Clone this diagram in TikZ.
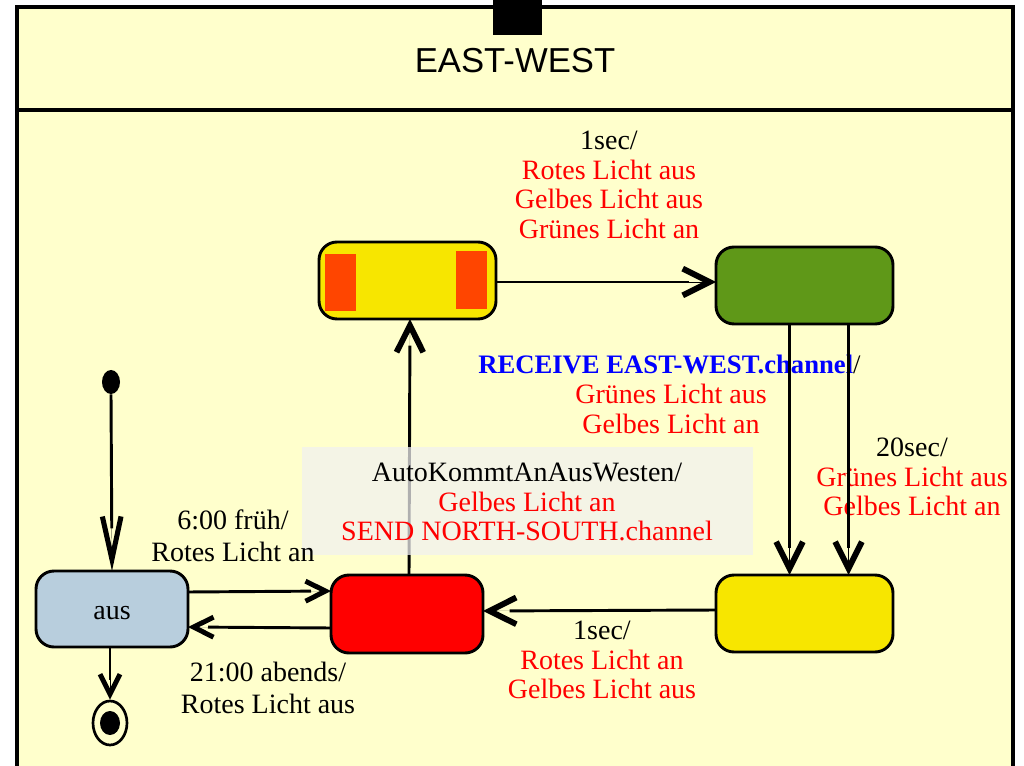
\documentclass[tikz,border=0pt]{standalone}
\usepackage{fontspec}
\setmainfont{Liberation Serif}
\setsansfont{Liberation Sans}
\usetikzlibrary{arrows.meta,shapes.geometric}
\definecolor{bgy}{HTML}{FFFFCC}
\definecolor{lgrey}{HTML}{F1F1F1}
\definecolor{syellow}{HTML}{F7E600}
\definecolor{sgreen}{HTML}{5F9818}
\definecolor{sblue}{HTML}{B8CEDD}
\definecolor{sorange}{HTML}{FF4500}
\tikzset{
 x=0.75pt,y=-0.75pt,
 statebox/.style={draw=black,line width=2.2pt,rounded corners=13.5pt,inner sep=0pt,outer sep=0pt,anchor=north west},
 lbl/.style={align=center,inner sep=0pt,font=\fontsize{21}{22.2}\selectfont},
 lblwide/.style={align=center,inner sep=0pt,font=\fontsize{21}{24}\selectfont},
 conn/.style={line width=2.2pt},
 bigv/.style={conn,shorten >=20pt,postaction={draw,line width=0.1pt,shorten >=0pt,-{Straight Barb[length=20pt,width=20pt,line width=4.4pt]}}},
 midv/.style={conn,shorten >=15pt,postaction={draw,line width=0.1pt,shorten >=0pt,-{Straight Barb[length=15pt,width=15pt,line width=3.7pt]}}},
 longv/.style={conn,shorten >=32pt,postaction={draw,line width=0.1pt,shorten >=0pt,-{Straight Barb[length=32pt,width=14pt,line width=3.8pt]}}},
 framel/.style={draw=black,line width=2.7pt},
}
\begin{document}
\begin{tikzpicture}
\useasboundingbox (0,0) rectangle (1024,766);
\fill[white] (0,0) rectangle (1024,766);
\fill[bgy] (17,7) rectangle (1013,766);
\draw[framel] (17,770) -- (17,7) -- (1013,7) -- (1013,770);
\draw[framel] (17,110) -- (1013,110);
\node[fill=black,minimum width=36.75pt,minimum height=26.25pt,inner sep=0pt,anchor=south west] (port) at (493,35) {};
\node[font=\sffamily\fontsize{26}{30}\selectfont,inner sep=0pt] (title) at (515,61) {EAST-WEST};

\node[statebox,fill=syellow,minimum width=132.75pt,minimum height=57.75pt] (s1) at (319,242) {};
\node[fill=sorange,minimum width=23.25pt,minimum height=42.75pt,inner sep=0pt,anchor=north west] (o1) at (325,254) {};
\node[fill=sorange,minimum width=23.25pt,minimum height=43.5pt,inner sep=0pt,anchor=north west] (o2) at (456,251) {};
\node[statebox,fill=sgreen,minimum width=132.75pt,minimum height=57.75pt] (s2) at (716,247) {};
\node[statebox,fill=syellow,minimum width=132.75pt,minimum height=57.75pt] (s3) at (716,575) {};
\node[statebox,fill=red,minimum width=114pt,minimum height=58.5pt] (s4) at (331,575) {};
\node[statebox,fill=sblue,minimum width=114pt,minimum height=57pt] (s5) at (36,571) {};
\node[lbl] (auslbl) at (112,613) {aus};
\node[fill=black,ellipse,minimum width=13.5pt,minimum height=18pt,inner sep=0pt] (init) at (111,382) {};
\node[draw=black,line width=2pt,fill=bgy,ellipse,minimum width=25.5pt,minimum height=33pt,inner sep=0pt] (fin) at (110,723) {};
\node[fill=black,ellipse,minimum width=15pt,minimum height=18pt,inner sep=0pt] (finc) at (110,723) {};

\coordinate (a1) at (789.5,0);
\coordinate (a2) at (848.5,0);

\draw[longv] (init.south) -- (s5.north);
\draw[midv] (s5.east |- 0,592) -- (s4.west |- 0,591);
\draw[midv] (s4.west |- 0,628) -- (s5.east |- 0,627);
\draw[midv] (s5.south -| 110,0) -- (fin.north);
\draw[bigv] (s4.north -| 409,0) -- (s1.south -| 410,0);
\draw[bigv] (s1.east |- 0,282) -- (s2.west |- 0,282);
\draw[bigv] (s3.west |- 0,610) -- (s4.east |- 0,611);

\node[lbl] (t1) at (609,185) {1sec/\\\textcolor{red}{Rotes Licht aus}\\\textcolor{red}{Gelbes Licht aus}\\\textcolor{red}{Grünes Licht an}};
\node[lbl,anchor=west,font=\fontsize{20}{22.2}\selectfont] (t2a) at (478,364) {\textcolor{blue}{\textbf{RECEIVE EAST-WEST.channel}}/};
\node[lbl] (t2b) at (671,409) {\textcolor{red}{Grünes Licht aus}\\\textcolor{red}{Gelbes Licht an}};
\node[lbl] (t3) at (912,477) {20sec/\\\textcolor{red}{Grünes Licht aus}\\\textcolor{red}{Gelbes Licht an}};
\node[lblwide] (t5) at (268,688) {21:00 abends/\\Rotes Licht aus};
\node[lbl] (t6) at (602,660) {1sec/\\\textcolor{red}{Rotes Licht an}\\\textcolor{red}{Gelbes Licht aus}};

\draw[bigv] (s2.south -| a1) -- (s3.north -| a1);
\draw[bigv] (s2.south -| a2) -- (s3.north -| a2);

\node[fill=lgrey,fill opacity=0.73,minimum width=338.25pt,minimum height=81pt,inner sep=0pt,anchor=north west] (greybox) at (302,447) {};
\node[lbl] (t7) at (527,502) {AutoKommtAnAusWesten/\\\textcolor{red}{Gelbes Licht an}\\\textcolor{red}{SEND NORTH-SOUTH.channel}};
\node[lblwide] (t4) at (233,536) {6:00 früh/\\Rotes Licht an};
\end{tikzpicture}
\end{document}
